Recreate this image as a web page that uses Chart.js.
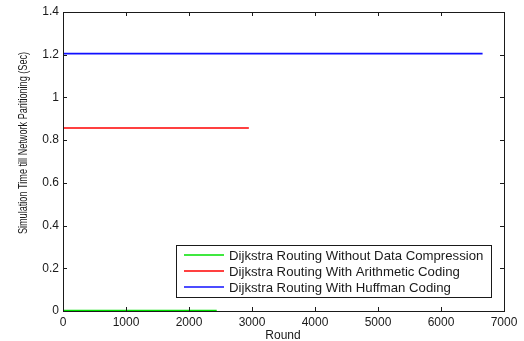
<!DOCTYPE html>
<html>
<head>
<meta charset="utf-8">
<script src="https://cdn.jsdelivr.net/npm/chart.js@4/dist/chart.umd.min.js"></script>
<style>
  html, body { margin: 0; padding: 0; background: #fff; }
  #wrap { width: 524px; height: 341px; }
</style>
</head>
<body>
<div id="wrap"><canvas id="simChart" width="524" height="341"></canvas></div>
<script>
// rounds at which each run ended, and the partition time of each run
const seriesNames = [
  'Dijkstra Routing Without Data Compression',
  'Dijkstra Routing With Arithmetic Coding',
  'Dijkstra Routing With Huffman Coding'
];
const seriesColors = ['#00e000', '#ff0000', '#1010ff'];
const seriesRounds = [[0, 2440], [0, 2950], [0, 6660]];
const seriesTimes = [[0.002, 0.002], [0.857, 0.857], [1.205, 1.205]];

const xTicks = [0, 1000, 2000, 3000, 4000, 5000, 6000, 7000];
const yTicks = [0, 0.2, 0.4, 0.6, 0.8, 1, 1.2, 1.4];

const fam = 'Arial, "Liberation Sans", sans-serif';
const font = { family: fam, size: 12 };
const ink = '#1a1a1a';

// matlab style box with ticks pointing inwards, axis titles and the legend
const boxPlugin = {
  id: 'box',
  afterDatasetsDraw(chart) {
    const { ctx, chartArea: a, scales } = chart;
    ctx.save();
    ctx.strokeStyle = ink;
    ctx.lineWidth = 1;
    ctx.beginPath();
    xTicks.forEach(v => {
      const px = Math.round(scales.x.getPixelForValue(v)) + 0.5;
      ctx.moveTo(px, a.bottom); ctx.lineTo(px, a.bottom - 4);
      ctx.moveTo(px, a.top); ctx.lineTo(px, a.top + 4);
    });
    yTicks.forEach(v => {
      const py = Math.round(scales.y.getPixelForValue(v)) + 0.5;
      ctx.moveTo(a.left, py); ctx.lineTo(a.left + 4, py);
      ctx.moveTo(a.right, py); ctx.lineTo(a.right - 4, py);
    });
    ctx.stroke();
    ctx.strokeRect(Math.round(a.left) + 0.5, Math.round(a.top) + 0.5,
      Math.round(a.right - a.left), Math.round(a.bottom - a.top));

    // axis titles
    ctx.fillStyle = ink;
    ctx.font = '12px ' + fam;
    ctx.textAlign = 'center';
    ctx.textBaseline = 'middle';
    ctx.fillText('Round', 283, 335.5);
    ctx.save();
    ctx.translate(24, 143);
    ctx.rotate(-Math.PI / 2);
    ctx.scale(0.73, 1);
    ctx.font = '12.5px ' + fam;
    ctx.fillText('Simulation Time till Network Paritioning (Sec)', 0, 0);
    ctx.restore();

    // legend box, lower right
    const lx = 176.5, ly = 245.5, lw = 315, lh = 52;
    ctx.fillStyle = '#fff';
    ctx.fillRect(lx, ly, lw, lh);
    ctx.strokeStyle = ink;
    ctx.strokeRect(lx, ly, lw, lh);
    ctx.font = '13.2px ' + fam;
    ctx.textAlign = 'left';
    seriesNames.forEach((name, i) => {
      const y = 255 + i * 16;
      ctx.strokeStyle = seriesColors[i];
      ctx.lineWidth = 1.5;
      ctx.beginPath();
      ctx.moveTo(184, y); ctx.lineTo(224, y);
      ctx.stroke();
      ctx.fillStyle = ink;
      ctx.fillText(name, 229, y + 1);
    });
    ctx.restore();
  }
};

const datasets = seriesNames.map((name, i) => ({
  label: name,
  data: seriesRounds[i].map((r, k) => ({ x: r, y: seriesTimes[i][k] })),
  borderColor: seriesColors[i],
  borderWidth: 1.6,
  pointRadius: 0,
  fill: false,
  clip: 3
}));

new Chart(document.getElementById('simChart'), {
  type: 'line',
  data: { datasets: datasets },
  options: {
    responsive: false,
    animation: false,
    layout: { padding: { top: 12, right: 20, left: 0, bottom: 0 } },
    plugins: { legend: { display: false }, tooltip: { enabled: false } },
    scales: {
      x: {
        type: 'linear',
        min: 0, max: 7000,
        afterFit: s => { s.height = 30; },
        afterBuildTicks: s => { s.ticks = xTicks.map(v => ({ value: v })); },
        grid: { display: false },
        border: { display: false },
        ticks: { font: font, color: ink, maxRotation: 0, padding: -4, callback: v => String(v) }
      },
      y: {
        min: 0, max: 1.4,
        afterFit: s => { s.width = 63; },
        afterBuildTicks: s => { s.ticks = yTicks.map(v => ({ value: v })); },
        grid: { display: false },
        border: { display: false },
        ticks: { font: font, color: ink, padding: -4, callback: v => String(+v.toFixed(1)) }
      }
    }
  },
  plugins: [boxPlugin]
});
</script>
</body>
</html>
